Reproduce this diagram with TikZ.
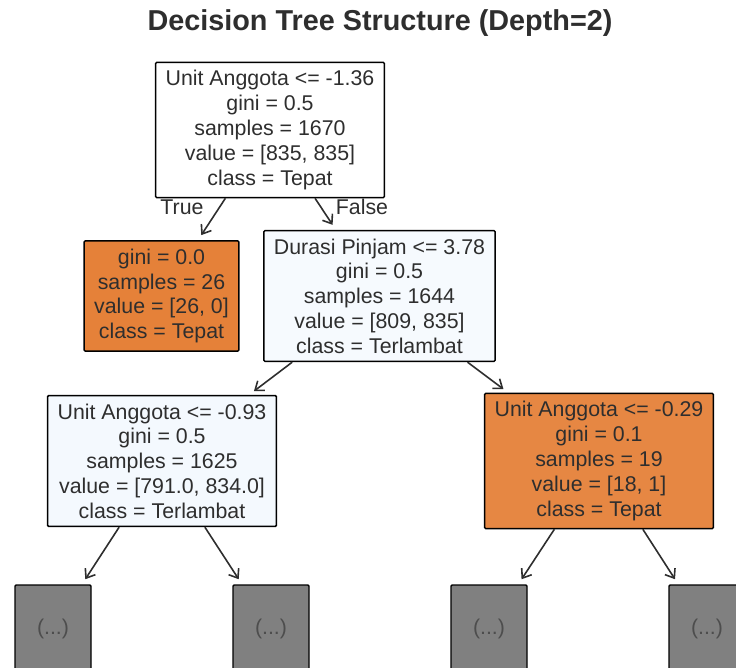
\documentclass[tikz,border=0pt]{standalone}
\usepackage{fontspec}
\setmainfont{Liberation Sans}
\usetikzlibrary{arrows.meta}

\definecolor{tepat}{HTML}{E58139}
\definecolor{tepatB}{HTML}{E68743}
\definecolor{lambat}{HTML}{F6FAFE}
\definecolor{lambatB}{HTML}{F4F9FE}
\definecolor{ink}{HTML}{2E2E2E}
\definecolor{more}{HTML}{808080}

\begin{document}
\begin{tikzpicture}[x=0.75pt,y=-0.75pt,
  treenode/.style={draw=black, line width=1.1pt, fill=white, align=center, text=ink,
    inner xsep=7.5pt, inner ysep=6pt, font=\fontsize{16}{18.6}\selectfont, rounded corners=0.8pt},
  morenode/.style={treenode, fill=more, minimum width=57pt, minimum height=66pt, text=ink!85},
  edge/.style={draw=ink, line width=1.2pt, -{Straight Barb[length=6pt,width=9pt]}, shorten >=4.5pt},
  edgelabel/.style={text=ink, font=\fontsize{16}{18.6}\selectfont}]
\useasboundingbox (0,0) rectangle (736,668);
\clip (0,0) rectangle (736,668);

% Title
\node[text=ink, font=\bfseries\fontsize{21.6}{26}\selectfont] (title) at (380,23) {Decision Tree Structure (Depth=2)};

% Depth 0
\node[treenode] (root) at (270,130) {Unit Anggota <= -1.36\\gini = 0.5\\samples = 1670\\value = [835, 835]\\class = Tepat};

% Depth 1
\node[treenode, fill=tepat] (leafTepat) at (161.5,296) {gini = 0.0\\samples = 26\\value = [26, 0]\\class = Tepat};
\node[treenode, fill=lambat] (durasi) at (379.5,296) {Durasi Pinjam <= 3.78\\gini = 0.5\\samples = 1644\\value = [809, 835]\\class = Terlambat};

% Depth 2
\node[treenode, fill=lambatB] (unitA) at (162,461) {Unit Anggota <= -0.93\\gini = 0.5\\samples = 1625\\value = [791.0, 834.0]\\class = Terlambat};
\node[treenode, fill=tepatB] (unitB) at (599,461) {Unit Anggota <= -0.29\\gini = 0.1\\samples = 19\\value = [18, 1]\\class = Tepat};

% Truncated
\node[morenode] (more1) at (53,629) {(...)};
\node[morenode] (more2) at (271,629) {(...)};
\node[morenode] (more3) at (489,629) {(...)};
\node[morenode] (more4) at (707,629) {(...)};

% Edges
\foreach \a/\b in {root/leafTepat, root/durasi, durasi/unitA, durasi/unitB,
                   unitA/more1, unitA/more2, unitB/more3, unitB/more4}
    \draw[edge] (\a) -- (\b);

\node[edgelabel] (lblTrue) at (182,207) {True};
\node[edgelabel] (lblFalse) at (362,207) {False};
\end{tikzpicture}
\end{document}
